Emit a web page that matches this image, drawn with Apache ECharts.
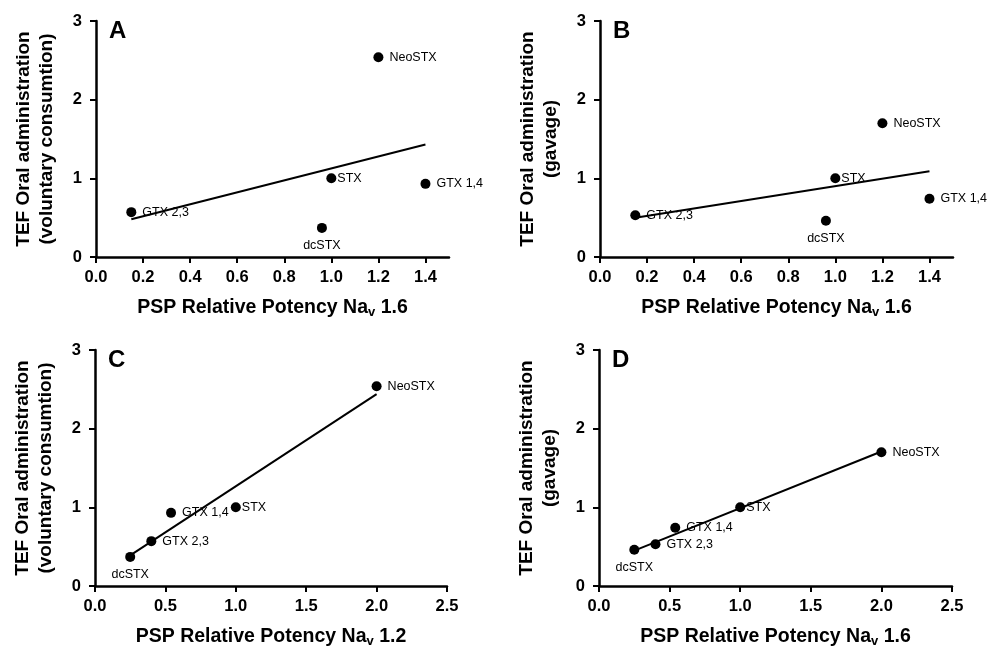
<!DOCTYPE html>
<html>
<head>
<meta charset="utf-8">
<script src="https://cdn.jsdelivr.net/npm/echarts@6/dist/echarts.min.js"></script>
<style>
  html, body { margin: 0; padding: 0; background: #fff; }
  #container { width: 987px; height: 647px; }
</style>
</head>
<body>
<div id="container"></div>
<script>
var dom = document.getElementById("container");
var myChart = echarts.init(dom);

// toxins and readings
var toxins = ['GTX 2,3', 'dcSTX', 'STX', 'NeoSTX', 'GTX 1,4'];
var potencyNav16 = [0.15, 0.96, 1.0, 1.2, 1.4];
var potencyNav12 = [0.40, 0.25, 1.0, 2.0, 0.54];
var potencyNav16D = [0.40, 0.25, 1.0, 2.0, 0.54];
var tefVoluntary = [0.57, 0.37, 1.0, 2.54, 0.93];
var tefGavage = [0.53, 0.46, 1.0, 1.70, 0.74];

// fitted lines (end points)
var fitA = [[0.15, 0.48], [1.4, 1.43]];
var fitB = [[0.15, 0.50], [1.4, 1.09]];
var fitC = [[0.25, 0.39], [2.0, 2.44]];
var fitD = [[0.25, 0.45], [2.0, 1.71]];

// tick labels
var xTicksSmall = [0, 0.2, 0.4, 0.6, 0.8, 1.0, 1.2, 1.4];
var xTicksLarge = [0, 0.5, 1.0, 1.5, 2.0, 2.5];
var yTicks = [0, 1, 2, 3];

var font = '"Liberation Sans", Arial, sans-serif';

var panels = [
  { letter: 'A', x: potencyNav16, y: tefVoluntary, fit: fitA, xMax: 1.5, ticks: xTicksSmall,
    xName: 'PSP Relative Potency Na{sub|v} 1.6', yName: 'TEF Oral administration\n(voluntary consumtion)',
    grid: { left: 96, top: 21, width: 353, height: 236 } },
  { letter: 'B', x: potencyNav16, y: tefGavage, fit: fitB, xMax: 1.5, ticks: xTicksSmall,
    xName: 'PSP Relative Potency Na{sub|v} 1.6', yName: 'TEF Oral administration\n(gavage)',
    grid: { left: 600, top: 21, width: 353, height: 236 } },
  { letter: 'C', x: potencyNav12, y: tefVoluntary, fit: fitC, xMax: 2.5, ticks: xTicksLarge,
    xName: 'PSP Relative Potency Na{sub|v} 1.2', yName: 'TEF Oral administration\n(voluntary consumtion)',
    grid: { left: 95, top: 350, width: 352, height: 236 } },
  { letter: 'D', x: potencyNav16D, y: tefGavage, fit: fitD, xMax: 2.5, ticks: xTicksLarge,
    xName: 'PSP Relative Potency Na{sub|v} 1.6', yName: 'TEF Oral administration\n(gavage)',
    grid: { left: 599, top: 350, width: 353, height: 236 } }
];

var axisLine = { show: true, lineStyle: { color: '#000', width: 2.5 } };
var axisTick = { show: true, inside: false, length: 6, lineStyle: { color: '#000', width: 2 } };

var option = {
  backgroundColor: '#fff',
  animation: false,
  title: panels.map(p => ({
    text: p.letter,
    left: p.grid.left + 13,
    top: p.grid.top - 2,
    padding: 0,
    textStyle: { fontFamily: font, fontWeight: 'bold', fontSize: 24, color: '#000' }
  })),
  grid: panels.map(p => Object.assign({ containLabel: false, outerBoundsMode: 'none' }, p.grid)),
  xAxis: panels.map((p, i) => ({
    gridIndex: i,
    type: 'value',
    min: 0,
    max: p.xMax,
    splitLine: { show: false },
    axisLine: axisLine,
    axisTick: Object.assign({ customValues: p.ticks }, axisTick),
    axisLabel: {
      customValues: p.ticks,
      margin: 12,
      color: '#000',
      fontFamily: font,
      fontWeight: 'bold',
      fontSize: 16.5,
      formatter: v => v.toFixed(1)
    },
    name: p.xName,
    nameLocation: 'middle',
    nameGap: 39,
    nameTextStyle: {
      color: '#000', fontFamily: font, fontWeight: 'bold', fontSize: 19.5,
      rich: { sub: { fontFamily: font, fontWeight: 'bold', fontSize: 13, color: '#000', padding: [10, 0, 0, 0] } }
    }
  })),
  yAxis: panels.map((p, i) => ({
    gridIndex: i,
    type: 'value',
    min: 0,
    max: 3,
    interval: 1,
    splitLine: { show: false },
    axisLine: axisLine,
    axisTick: axisTick,
    axisLabel: {
      margin: 14,
      color: '#000',
      fontFamily: font,
      fontWeight: 'bold',
      fontSize: 16.5
    },
    name: p.yName,
    nameLocation: 'middle',
    nameRotate: 90,
    nameGap: 38,
    nameTextStyle: {
      color: '#000', fontFamily: font, fontWeight: 'bold', fontSize: 19, lineHeight: 23, align: 'center'
    }
  })),
  series: [].concat(
    panels.map((p, i) => ({
      type: 'line',
      xAxisIndex: i,
      yAxisIndex: i,
      symbol: 'none',
      silent: true,
      lineStyle: { color: '#000', width: 2 },
      data: p.fit
    })),
    panels.map((p, i) => ({
      type: 'scatter',
      xAxisIndex: i,
      yAxisIndex: i,
      symbol: 'circle',
      symbolSize: 10,
      itemStyle: { color: '#000', opacity: 1 },
      data: toxins.map((name, k) => ({
        name: name,
        value: [p.x[k], p.y[k]],
        label: {
          show: true,
          formatter: '{b}',
          position: name === 'dcSTX' ? 'bottom' : 'right',
          distance: name === 'STX' ? 1 : 6,
          color: '#000',
          fontFamily: font,
          fontSize: 12.5
        }
      }))
    }))
  )
};

if (option && typeof option === 'object') {
  myChart.setOption(option);
}
</script>
</body>
</html>
